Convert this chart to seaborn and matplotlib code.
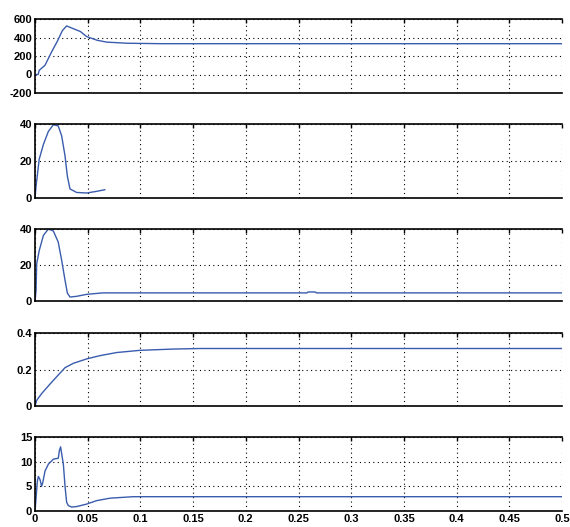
import numpy as np
import pandas as pd
import matplotlib
matplotlib.use('Agg')
import matplotlib.pyplot as plt
import seaborn as sns

# values (time in s)
t1 = [0, 0.003, 0.004, 0.0095, 0.016, 0.021, 0.026, 0.030, 0.036, 0.043, 0.049, 0.059, 0.068, 0.087, 0.12, 0.5]
y1 = [0, 0, 45, 100, 250, 355, 475, 525, 497, 465, 410, 370, 350, 338, 333, 333]

t2 = [0, 0.001, 0.004, 0.008, 0.0127, 0.0174, 0.022, 0.0253, 0.0285, 0.0307, 0.0332, 0.0395, 0.049, 0.0585, 0.0664]
y2 = [0, 6.4, 21, 29, 36, 39.6, 39, 33.6, 22.7, 11.8, 4.9, 3, 2.7, 3.6, 4.5]

t3 = [0, 0.001, 0.0016, 0.004, 0.008, 0.0127, 0.0174, 0.022, 0.0253, 0.0285, 0.0307, 0.0332, 0.0395, 0.049, 0.0585, 0.064,
      0.258, 0.259, 0.266, 0.267, 0.5]
y3 = [0, 5.9, 20.7, 28, 36.5, 40, 38.9, 32.8, 22.6, 11.5, 4.4, 2.2, 2.6, 3.7, 4.2, 4.5,
      4.5, 5.0, 5.0, 4.5, 4.5]

t4 = [0, 0.0016, 0.0063, 0.0142, 0.0221, 0.0285, 0.0364, 0.049, 0.0617, 0.0775, 0.0996, 0.131, 0.1565, 0.5]
y4 = [0, 0.031, 0.068, 0.12, 0.17, 0.21, 0.234, 0.258, 0.276, 0.293, 0.305, 0.312, 0.315, 0.315]

t5 = [0, 0.001, 0.0022, 0.0032, 0.0047, 0.0063, 0.0073, 0.0095, 0.0127, 0.0174, 0.0221, 0.0231, 0.0243, 0.0256,
      0.0269, 0.0285, 0.030, 0.0316, 0.0348, 0.0395, 0.049, 0.0585, 0.0712, 0.0933, 0.5]
y5 = [0, 2.6, 6, 7, 6.4, 5, 5.7, 8.1, 9.5, 10.5, 10.7, 12.2, 13, 11.2,
      9.5, 5, 1.8, 1.1, 0.8, 0.9, 1.4, 2.1, 2.6, 2.9, 2.9]

series = [(t1, y1), (t2, y2), (t3, y3), (t4, y4), (t5, y5)]
ylims = [(-200, 600), (0, 40), (0, 40), (0, 0.4), (0, 15)]
yticks = [[-200, 0, 200, 400, 600], [0, 20, 40], [0, 20, 40], [0, 0.2, 0.4], [0, 5, 10, 15]]
yticklabels = [['-200', '0', '200', '400', '600'], ['0', '20', '40'], ['0', '20', '40'],
               ['0', '0.2', '0.4'], ['0', '5', '10', '15']]
xticks = [0, 0.05, 0.1, 0.15, 0.2, 0.25, 0.3, 0.35, 0.4, 0.45, 0.5]
xticklabels = ['0', '0.05', '0.1', '0.15', '0.2', '0.25', '0.3', '0.35', '0.4', '0.45', '0.5']

sns.set_style('white')
plt.rcParams['font.family'] = ['Liberation Sans', 'DejaVu Sans']

W, H = 570, 527
fig = plt.figure(figsize=(W / 100, H / 100), dpi=100)
# panel top/bottom in pixels
panels = [(19, 93), (124, 198), (229, 301), (333, 406), (437, 511)]
left, right = 35, 562

for i, ((t, y), (top, bot)) in enumerate(zip(series, panels)):
    ax = fig.add_axes([left / W, 1 - bot / H, (right - left) / W, (bot - top) / H])
    df = pd.DataFrame({'t': t, 'y': y})
    sns.lineplot(data=df, x='t', y='y', ax=ax, color='#3a5cad', linewidth=1.0)
    ax.set_xlim(0, 0.5)
    ax.set_ylim(*ylims[i])
    ax.set_yticks(yticks[i])
    ax.set_yticklabels(yticklabels[i], fontsize=8, fontweight='bold')
    ax.set_xticks(xticks)
    if i == 4:
        ax.set_xticklabels(xticklabels, fontsize=8, fontweight='bold')
    else:
        ax.set_xticklabels([])
    ax.set_xlabel('')
    ax.set_ylabel('')
    ax.grid(True, color='black', linestyle=(0, (1, 3)), linewidth=0.8)
    ax.tick_params(direction='in', length=3, width=1, top=True, right=False, pad=2,
                   colors='black')
    for s in ['top', 'bottom', 'left']:
        ax.spines[s].set_color('black')
        ax.spines[s].set_linewidth(1.2)
    ax.spines['right'].set_visible(False)

fig.savefig('out.png', dpi=100)
